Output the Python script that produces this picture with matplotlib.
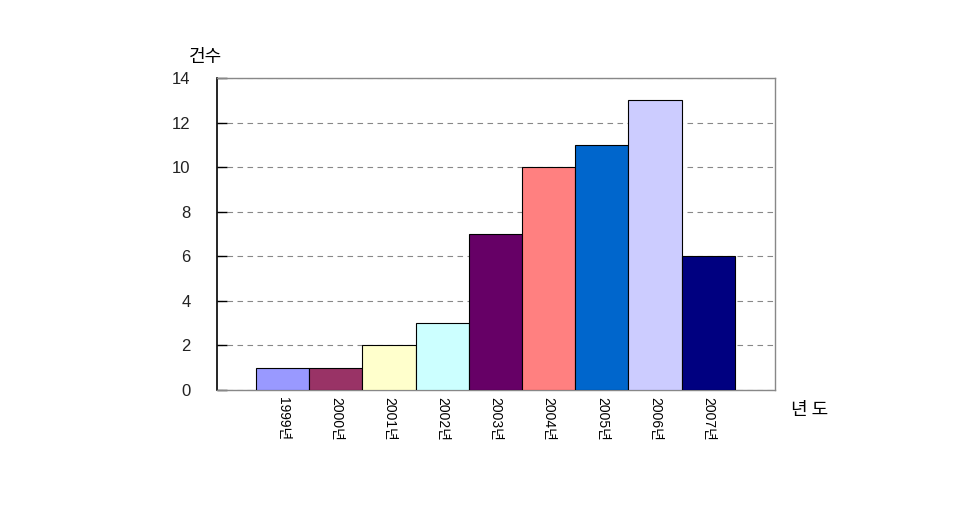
import matplotlib.pyplot as plt

plt.rcParams['font.family'] = ['Noto Sans CJK KR', 'DejaVu Sans']

# 연도별 건수
연도 = ["1999년", "2000년", "2001년", "2002년", "2003년", "2004년", "2005년", "2006년", "2007년"]
건수 = [1, 1, 2, 3, 7, 10, 11, 13, 6]
색상 = ["#9999ff", "#993366", "#ffffcc", "#ccffff", "#660066",
        "#ff8080", "#0066cc", "#ccccff", "#000080"]

fig = plt.figure(figsize=(9.67, 5.05), dpi=100)
ax = fig.add_axes([217 / 967, 1 - 390 / 505, 558 / 967, 312 / 505])

x = list(range(len(연도)))
ax.bar(x, 건수, width=1.0, color=색상, edgecolor="black", linewidth=0.8, zorder=3)

ax.set_xlim(-1.233, 9.255)
ax.set_ylim(0, 14)
ax.set_yticks(range(0, 15, 2))
ax.set_xticks(x)
ax.set_xticklabels(연도, rotation=270, fontsize=10, family=['Liberation Sans', 'Noto Sans CJK KR'])
ax.tick_params(axis="x", length=0, pad=5)
ax.tick_params(axis="y", direction="in", length=7, width=1, labelsize=12, pad=19,
               labelcolor="#222222")
for lbl in ax.get_yticklabels():
    lbl.set_family(['Liberation Sans'])

ax.yaxis.grid(True, linestyle=(0, (5, 4)), color="#888888", linewidth=0.8)
ax.set_axisbelow(True)

ax.spines["left"].set_color("black")
ax.spines["left"].set_linewidth(1.2)
for s in ["top", "right", "bottom"]:
    ax.spines[s].set_color("#888888")
    ax.spines[s].set_linewidth(1.0)

fig.text(205 / 967, 1 - 57 / 505, "건수", fontsize=13, ha="center", va="center")
fig.text(810 / 967, 1 - 410 / 505, "년 도", fontsize=13, ha="center", va="center")

fig.savefig("out.png", dpi=100, facecolor="white")
